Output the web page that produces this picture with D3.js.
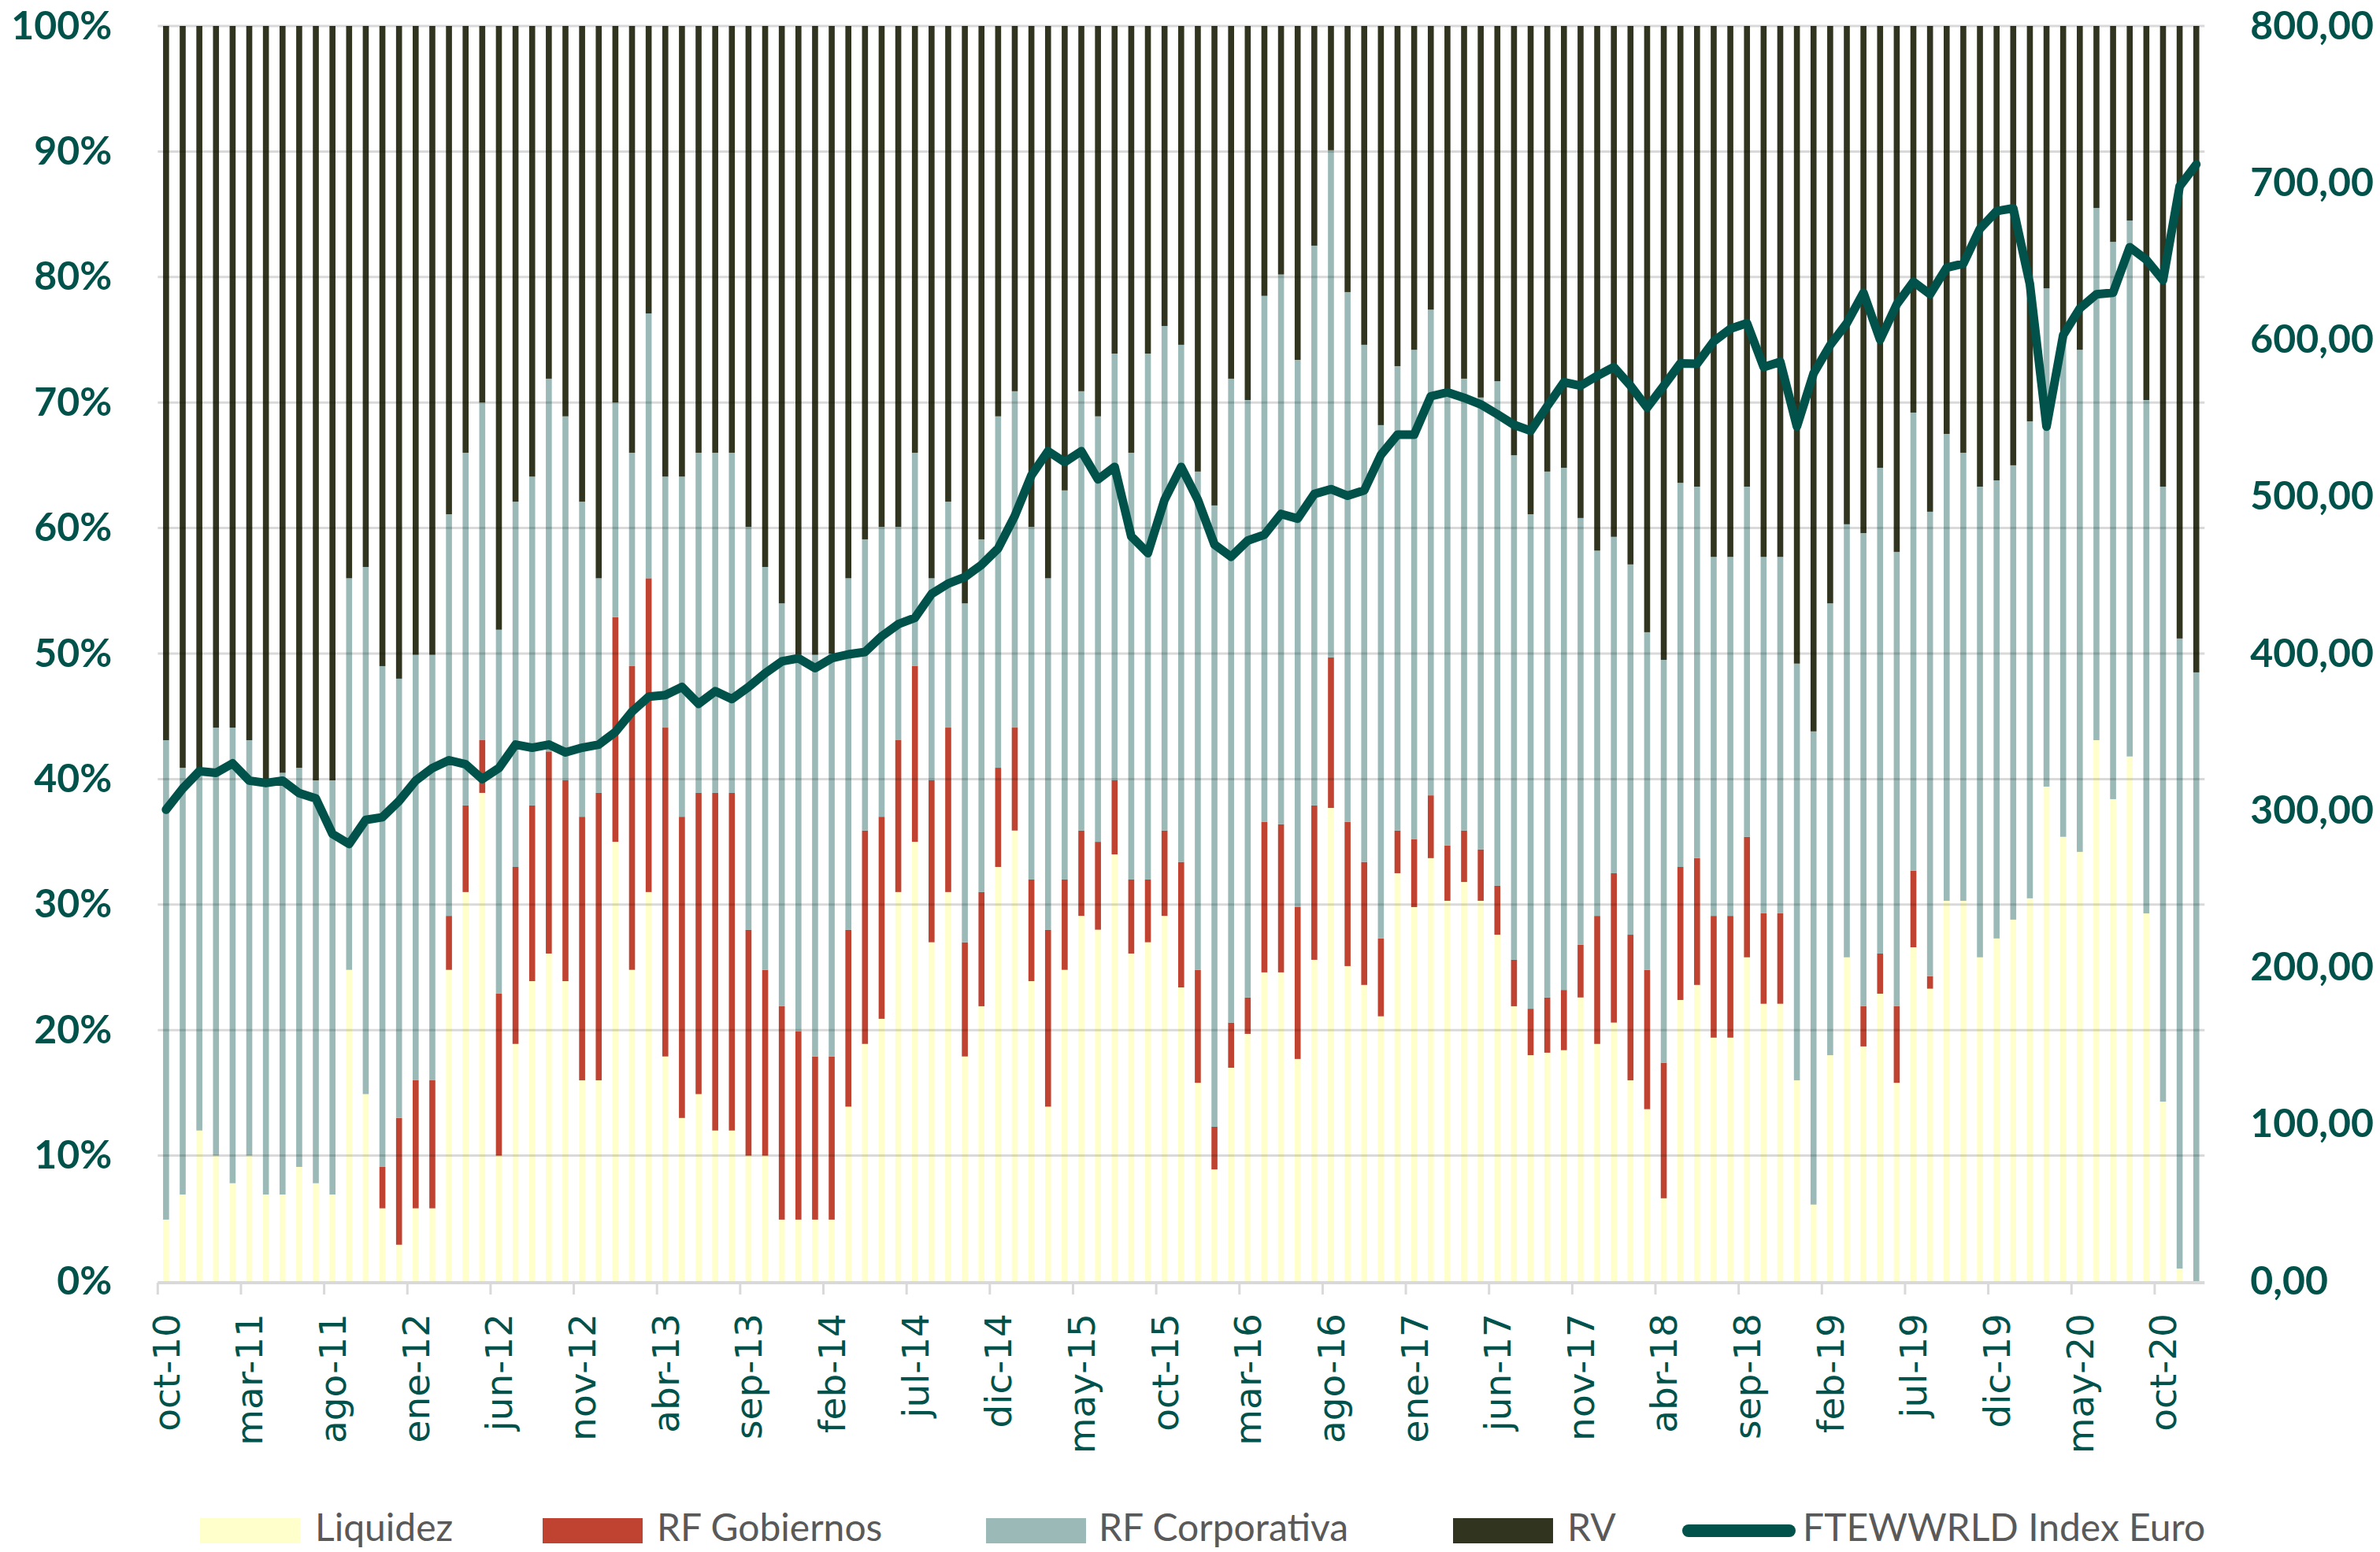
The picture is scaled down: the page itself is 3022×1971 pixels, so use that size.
<!DOCTYPE html>
<html>
<head>
<meta charset="utf-8">
<script src="https://cdn.jsdelivr.net/npm/d3@7"></script>
<style>
  body { margin: 0; background: #fff; }
</style>
</head>
<body>
<div class="chart"></div>
<script>
// categories: monthly, oct-10 .. dic-20
var mesesAbr = ["ene","feb","mar","abr","may","jun","jul","ago","sep","oct","nov","dic"];
var meses = [];
for (var k = 0; k < 123; k++) {
  meses.push(mesesAbr[(9 + k) % 12] + "-" + (10 + Math.floor((9 + k) / 12)));
}

// portfolio weights in %
var liquidez = [4.9,6.9,12.0,10.0,7.8,10.0,6.9,6.9,9.1,7.8,6.9,24.8,14.9,5.8,2.9,5.8,
  5.8,24.8,31.0,38.9,10.0,18.9,23.9,26.1,23.9,16.0,16.0,35.0,24.8,31.0,17.9,13.0,
  14.9,12.0,12.0,10.0,10.0,4.9,4.9,4.9,4.9,13.9,18.9,20.9,31.0,35.0,27.0,31.0,
  17.9,21.9,33.0,35.9,23.9,13.9,24.8,29.1,28.0,34.0,26.1,27.0,29.1,23.4,15.8,8.9,
  17.0,19.7,24.6,24.6,17.7,25.6,37.7,25.1,23.6,21.1,32.5,29.8,33.7,30.3,31.8,
  30.3,27.6,21.9,18.0,18.2,18.4,22.6,18.9,20.6,16.0,13.7,6.6,22.4,23.6,19.4,19.4,
  25.8,22.1,22.1,16.0,6.1,18.0,25.8,18.7,22.9,15.8,26.6,23.3,30.3,30.3,25.8,27.3,
  28.8,30.5,39.4,35.4,34.2,43.1,38.4,41.8,29.3,14.3,1.0,0];
var rfGobiernos = [0,0,0,0,0,0,0,0,0,0,0,0,0,3.3,10.1,10.2,
  10.2,4.3,6.9,4.2,12.9,14.1,14.0,16.1,16.0,21.0,22.9,17.9,24.2,25.0,26.2,24.0,
  24.0,26.9,26.9,18.0,14.8,17.0,15.0,13.0,13.0,14.1,17.0,16.1,12.1,14.0,12.9,13.1,
  9.1,9.1,7.9,8.2,8.1,14.1,7.2,6.8,7.0,5.9,5.9,5.0,6.8,10.0,9.0,3.4,
  3.6,2.9,12.0,11.8,12.1,12.3,12.0,11.5,9.8,6.2,3.4,5.4,5.0,4.4,4.1,
  4.1,3.9,3.7,3.7,4.4,4.8,4.2,10.2,11.9,11.6,11.1,10.8,10.6,10.1,9.7,9.7,
  9.6,7.2,7.2,0,0,0,0,3.2,3.2,6.1,6.1,1.0,0,0,0,0,
  0,0,0,0,0,0,0,0,0,0,0,0];
var rfCorporativa = [38.2,34.0,28.5,34.1,36.3,33.1,33.1,33.6,31.8,32.1,33.0,31.2,42.0,39.9,35.0,33.9,
  33.9,32.0,28.1,26.9,29.0,29.1,26.2,29.7,29.0,25.1,17.1,17.1,17.0,21.1,20.0,27.1,
  27.1,27.1,27.1,32.1,32.1,32.1,30.0,32.0,32.1,28.0,23.2,23.1,17.0,17.0,16.1,18.0,
  27.0,28.1,28.0,26.8,28.1,28.0,31.0,35.0,33.9,34.0,34.0,41.9,40.2,41.2,39.7,49.5,
  51.3,47.6,41.9,43.8,43.6,44.6,40.4,42.2,41.2,40.9,37.0,39.0,38.7,36.3,36.0,
  36.0,40.2,40.2,39.4,41.9,41.6,34.0,29.1,26.8,29.5,26.9,32.1,30.6,29.6,28.6,28.6,
  27.9,28.4,28.4,33.2,37.7,36.0,34.5,37.7,38.7,36.2,36.5,37.0,37.2,35.7,37.5,36.5,
  36.2,38.0,39.7,40.1,40.0,42.4,44.4,42.7,40.9,49.0,50.2,48.5];
var rv = [56.9,59.1,59.5,55.9,55.9,56.9,60.0,59.5,59.1,60.1,60.1,44.0,43.1,51.0,52.0,50.1,
  50.1,38.9,34.0,30.0,48.1,37.9,35.9,28.1,31.1,37.9,44.0,30.0,34.0,22.9,35.9,35.9,
  34.0,34.0,34.0,39.9,43.1,46.0,50.1,50.1,50.0,44.0,40.9,39.9,39.9,34.0,44.0,37.9,
  46.0,40.9,31.1,29.1,39.9,44.0,37.0,29.1,31.1,26.1,34.0,26.1,23.9,25.4,35.5,38.2,
  28.1,29.8,21.5,19.8,26.6,17.5,9.9,21.2,25.4,31.8,27.1,25.8,22.6,29.0,28.1,
  29.6,28.3,34.2,38.9,35.5,35.2,39.2,41.8,40.7,42.9,48.3,50.5,36.4,36.7,42.3,42.3,
  36.7,42.3,42.3,50.8,56.2,46.0,39.7,40.4,35.2,41.9,30.8,38.7,32.5,34.0,36.7,36.2,
  35.0,31.5,20.9,24.5,25.8,14.5,17.2,15.5,29.8,36.7,48.8,51.5];

// FTEWWRLD Index Euro (right axis)
var indice = [300.5,314,325,324,330,319,317.5,319,311,307.6,285,278.6,294,295.7,306,319,
  327,332,329.4,320,327,342,340,342,337,340,342,350,363,372.5,373.5,378.7,
  368,376,371,378.7,387.5,395,397,390.7,397,399.5,401,411,418.7,422.8,438,444.6,
  448.8,456.5,467,487.7,513.6,529,522,529,511,519,474.7,464,498,519,498,469.5,
  461.7,472,475.7,489,486,501.7,504.8,500.6,504,526.6,539.5,539.5,564,566.5,563,
  558.8,552.5,545.8,542,557.7,573,570.7,577,582.6,570.7,556.7,570.7,585,584.7,599,607,
  610.6,582.6,586,544.7,578.5,596.6,610.6,630,600,622.6,637,629,646,648.5,670.8,682,
  683.8,635.5,544.7,602.9,620,629,630,659,651,638,697.8,711.8];

var pctTicks = [0,0.1,0.2,0.3,0.4,0.5,0.6,0.7,0.8,0.9,1];
var idxTicks = [0,100,200,300,400,500,600,700,800];

var series = ["Liquidez","RF Gobiernos","RF Corporativa","RV"];
var colores = ["#FFFFCC","#BF4330","#9BBAB7","#31351F"];
var lineColor = "#00524A";

(function draw() {
  // table for the stack
  var tabla = meses.map(function(m, i) {
    return {mes: m, "Liquidez": liquidez[i], "RF Gobiernos": rfGobiernos[i],
            "RF Corporativa": rfCorporativa[i], "RV": rv[i]};
  });

  var W = 3022, H = 1971;
  var plotL = 200.3, plotR = 2799.3, plotT = 33, plotB = 1627;

  var svg = d3.select(".chart").append("svg")
    .attr("width", W).attr("height", H)
    .style("font-family", "Lato, sans-serif");

  var x = d3.scaleBand().domain(meses).range([plotL, plotR]).padding(0);
  var yPct = d3.scaleLinear().domain([0, 1]).range([plotB, plotT]);
  var yIdx = d3.scaleLinear().domain([0, 800]).range([plotB, plotT]);
  var color = d3.scaleOrdinal().domain(series).range(colores);

  var barW = x.bandwidth() * 0.36;

  // stacked bars
  var stack = d3.stack().keys(series)(tabla);
  svg.append("g").selectAll("g")
    .data(stack)
    .enter().append("g")
      .attr("fill", function(d) { return color(d.key); })
    .selectAll("rect")
    .data(function(d) { return d; })
    .enter().append("rect")
      .attr("x", function(d) { return x(d.data.mes) + (x.bandwidth() - barW) / 2; })
      .attr("width", barW)
      .attr("y", function(d) { return yPct(d[1] / 100); })
      .attr("height", function(d) { return yPct(d[0] / 100) - yPct(d[1] / 100); });

  // gridlines over the bars
  svg.append("g").selectAll("line")
    .data(pctTicks.slice(1))
    .enter().append("line")
      .attr("x1", plotL).attr("x2", plotR)
      .attr("y1", function(d) { return yPct(d); })
      .attr("y2", function(d) { return yPct(d); })
      .attr("stroke", "rgba(0,0,0,0.15)")
      .attr("stroke-width", 3);

  // x axis line and tick marks every 5 months
  svg.append("line")
    .attr("x1", plotL).attr("x2", plotR)
    .attr("y1", plotB + 2).attr("y2", plotB + 2)
    .attr("stroke", "#D9D9D9").attr("stroke-width", 4);

  var labMeses = meses.filter(function(d, i) { return i % 5 == 0; });
  svg.append("g").selectAll("line")
    .data(labMeses)
    .enter().append("line")
      .attr("x1", function(d) { return x(d); })
      .attr("x2", function(d) { return x(d); })
      .attr("y1", plotB + 2).attr("y2", plotB + 17)
      .attr("stroke", "#D9D9D9").attr("stroke-width", 3);

  var xAxis = svg.append("g")
    .attr("transform", "translate(0," + (plotB + 2) + ")")
    .call(d3.axisBottom(x).tickValues(labMeses).tickSize(0));
  xAxis.select(".domain").remove();
  xAxis.selectAll("text")
    .attr("transform", "rotate(-90)")
    .attr("x", -39).attr("y", 0).attr("dy", "0.36em")
    .style("text-anchor", "end")
    .style("font-family", "'DejaVu Sans', sans-serif")
    .style("font-size", "47px")
    .style("fill", lineColor);

  // left axis
  var yAxisL = svg.append("g")
    .attr("transform", "translate(" + plotL + ",0)")
    .call(d3.axisLeft(yPct).tickValues(pctTicks).tickFormat(d3.format(".0%")).tickSize(0).tickPadding(58));
  yAxisL.select(".domain").remove();
  yAxisL.selectAll("text")
    .style("font-family", "Lato, sans-serif")
    .style("font-weight", "bold")
    .style("font-size", "50px")
    .style("fill", lineColor);

  // right axis
  var es = d3.formatLocale({decimal: ",", thousands: ".", grouping: [3], currency: ["", "€"]});
  var yAxisR = svg.append("g")
    .attr("transform", "translate(" + plotR + ",0)")
    .call(d3.axisRight(yIdx).tickValues(idxTicks).tickFormat(es.format(".2f")).tickSize(0).tickPadding(58));
  yAxisR.select(".domain").remove();
  yAxisR.selectAll("text")
    .style("font-family", "Lato, sans-serif")
    .style("font-weight", "bold")
    .style("font-size", "50px")
    .style("fill", lineColor);

  // index line
  var linea = d3.line()
    .x(function(d, i) { return x(meses[i]) + x.bandwidth() / 2; })
    .y(function(d) { return yIdx(d); });

  svg.append("path")
    .datum(indice)
    .attr("d", linea)
    .attr("fill", "none")
    .attr("stroke", lineColor)
    .attr("stroke-width", 11)
    .attr("stroke-linejoin", "round")
    .attr("stroke-linecap", "round");

  // legend
  var legX = [254, 689, 1252, 1845];
  var legTextX = [400, 834, 1395, 1990];
  var leg = svg.append("g");
  series.forEach(function(s, i) {
    leg.append("rect")
      .attr("x", legX[i]).attr("y", 1928)
      .attr("width", 127).attr("height", 32)
      .attr("fill", color(s));
    leg.append("text")
      .attr("x", legTextX[i]).attr("y", 1957)
      .style("font-size", "48px")
      .style("fill", "#595959")
      .text(s);
  });
  leg.append("line")
    .attr("x1", 2144).attr("x2", 2272)
    .attr("y1", 1944).attr("y2", 1944)
    .attr("stroke", lineColor).attr("stroke-width", 16)
    .attr("stroke-linecap", "round");
  leg.append("text")
    .attr("x", 2289).attr("y", 1957)
    .style("font-size", "48px")
    .style("fill", "#595959")
    .text("FTEWWRLD Index Euro");
})();
</script>
</body>
</html>
